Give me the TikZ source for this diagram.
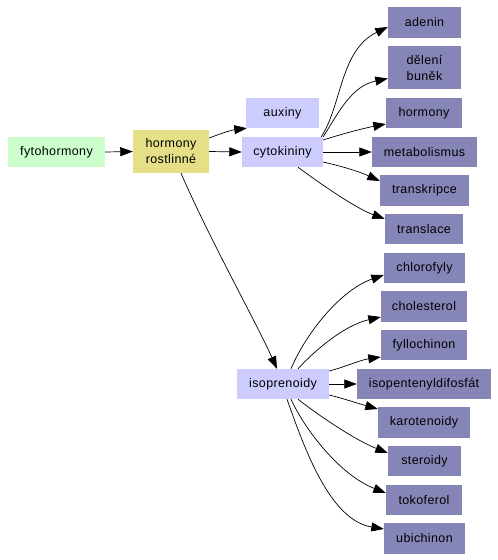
\documentclass[tikz,border=0pt]{standalone}
\usepackage{fontspec}
\setmainfont{Liberation Sans}[LetterSpace=3]
\usetikzlibrary{arrows.meta}
\definecolor{cgreen}{HTML}{CCFFCC}
\definecolor{ckhaki}{HTML}{E5E088}
\definecolor{clight}{HTML}{CCCCFF}
\definecolor{cdark}{HTML}{8585B8}
\tikzset{
  box/.style={inner sep=0pt, minimum height=30pt, align=center,
    font=\fontsize{12.5}{16}\selectfont},
  gbox/.style={box, fill=cgreen},
  kbox/.style={box, fill=ckhaki},
  lbox/.style={box, fill=clight},
  dbox/.style={box, fill=cdark},
  arr/.style={line width=0.7pt, -{Triangle[length=12.5pt,width=9pt]}}
}
\begin{document}
\begin{tikzpicture}[x=1pt,y=-1pt]
\useasboundingbox[fill=white] (0,0) rectangle (498,560);
\node[gbox, minimum width=97pt] (fyto) at (56.5,152) {fytohormony};
\node[kbox, minimum width=76pt, minimum height=43pt] (horm) at (171,151.5) {hormony\\rostlinné};
\node[lbox, minimum width=73pt] (aux) at (282.5,113) {auxiny};
\node[lbox, minimum width=81pt] (cyto) at (282.5,152) {cytokininy};
\node[lbox, minimum width=92pt] (isopr) at (283,384) {isoprenoidy};
\node[dbox, minimum width=73pt, minimum height=31pt] (adenin) at (424.5,22.5) {adenin};
\node[dbox, minimum width=73pt, minimum height=43pt] (deleni) at (424.5,67.5) {dělení\\buněk};
\node[dbox, minimum width=76pt] (hormony) at (424,113) {hormony};
\node[dbox, minimum width=105pt] (metab) at (424.5,152) {metabolismus};
\node[dbox, minimum width=89pt, minimum height=31pt] (transk) at (424.5,190.5) {transkripce};
\node[dbox, minimum width=78pt] (transl) at (424,229) {translace};
\node[dbox, minimum width=81pt] (chloro) at (424.5,268) {chlorofyly};
\node[dbox, minimum width=86pt, minimum height=31pt] (chol) at (424,306.5) {cholesterol};
\node[dbox, minimum width=86pt] (fyllo) at (424,345) {fyllochinon};
\node[dbox, minimum width=134pt] (isopent) at (424,384) {isopentenyldifosfát};
\node[dbox, minimum width=92pt, minimum height=31pt] (karot) at (424,422.5) {karotenoidy};
\node[dbox, minimum width=73pt] (ster) at (424.5,461) {steroidy};
\node[dbox, minimum width=76pt] (tokof) at (424,500) {tokoferol};
\node[dbox, minimum width=81pt, minimum height=31pt] (ubich) at (424.5,538.5) {ubichinon};

\draw[arr] (fyto.east) -- (horm.west);
\draw[arr] ([yshift=13.5pt]horm.east) .. controls (222,133) and (232,130) .. ([xshift=1pt]aux.south west);
\draw[arr] (horm.east) -- (cyto.west);
\draw[arr] ([xshift=10pt]horm.south) .. controls (210,240) and (255,320) .. ([xshift=-6pt]isopr.north);

\draw[arr] ([xshift=-2pt]cyto.north east) .. controls (342,105) and (340,50) .. ([yshift=-4.5pt]adenin.west);
\draw[arr] (cyto.north east) .. controls (340,110) and (352,86) .. ([yshift=-11pt]deleni.west);
\draw[arr] ([yshift=12pt]cyto.east) .. controls (345,133) and (365,128) .. ([yshift=-11pt]hormony.west);
\draw[arr] (cyto.east) -- (metab.west);
\draw[arr] ([yshift=-10pt]cyto.east) .. controls (345,167) and (360,172) .. ([yshift=9.5pt]transk.west);
\draw[arr] ([xshift=15.5pt]cyto.south) .. controls (318,182) and (355,208) .. ([yshift=10pt]transl.west);

\draw[arr] ([xshift=8pt]isopr.north) .. controls (305,335) and (340,290) .. ([yshift=-7pt]chloro.west);
\draw[arr] ([xshift=15pt]isopr.north) .. controls (315,350) and (345,325) .. ([yshift=-10.5pt]chol.west);
\draw[arr] ([yshift=13pt]isopr.east) .. controls (345,367) and (360,360) .. ([yshift=-12pt]fyllo.west);
\draw[arr] (isopr.east) -- (isopent.west);
\draw[arr] ([yshift=-11pt]isopr.east) .. controls (345,399) and (360,404) .. ([yshift=13.5pt]karot.west);
\draw[arr] ([xshift=15pt]isopr.south) .. controls (318,415) and (355,440) .. ([yshift=8pt]ster.west);
\draw[arr] ([xshift=8pt]isopr.south) .. controls (305,430) and (340,475) .. ([yshift=7pt]tokof.west);
\draw[arr] ([xshift=4pt]isopr.south) .. controls (305,450) and (330,520) .. ([yshift=9.5pt]ubich.west);
\end{tikzpicture}
\end{document}
